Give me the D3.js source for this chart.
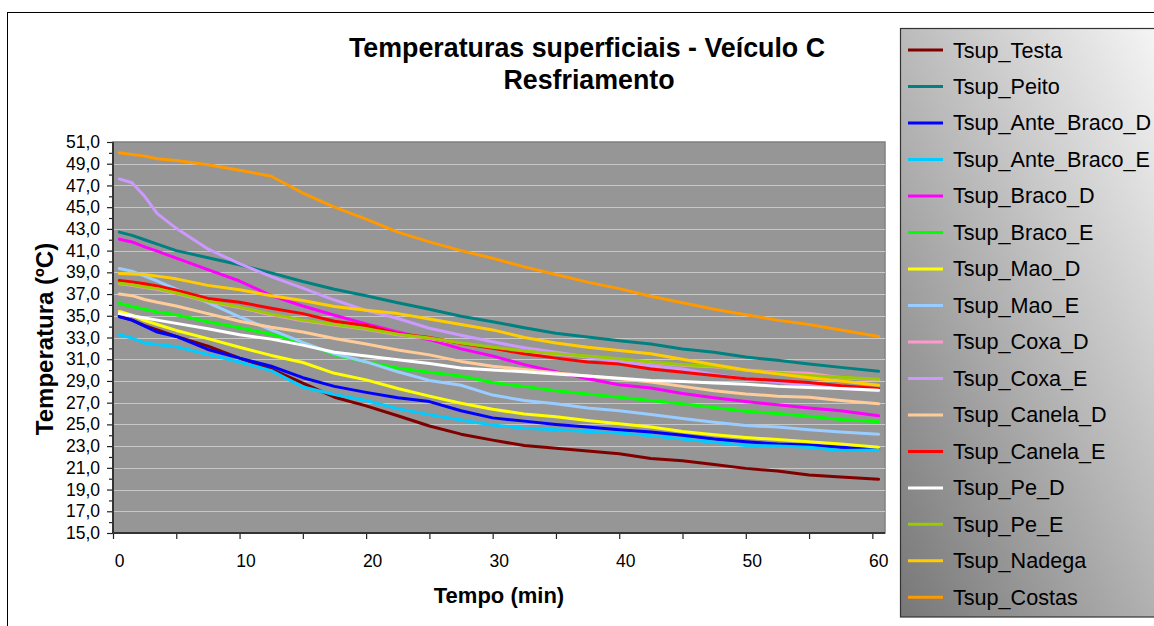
<!DOCTYPE html>
<html><head><meta charset="utf-8">
<script src="https://cdn.jsdelivr.net/npm/d3@7"></script>
<style>
html,body{margin:0;padding:0;background:#fff;overflow:hidden}
svg{display:block}
text{font-family:"Liberation Sans",Arial,sans-serif;fill:#000}
</style>
</head><body>
<svg id="c" width="1154" height="626"></svg>
<script>
// ---- data ----
const times = [0.5,1.5,2.5,3.5,5,7.5,10,12.5,15,17.5,20,22.5,25,27.5,30,32.5,35,37.5,40,42.5,45,47.5,50,52.5,55,57.5,60.5];
const testa      = [34.95,34.6,34.1,33.7,33.1,32.2,31.1,30.1,28.8,27.5,26.7,25.8,24.85,24.1,23.55,23.05,22.8,22.55,22.3,21.85,21.65,21.3,20.95,20.7,20.35,20.15,19.95];
const peito      = [42.7,42.4,42.0,41.6,41.0,40.35,39.7,38.95,38.15,37.45,36.85,36.2,35.6,34.95,34.45,33.9,33.4,33.05,32.7,32.4,31.95,31.65,31.2,30.9,30.55,30.25,29.9];
const anteBracoD = [34.9,34.6,34.05,33.5,33.1,31.9,31.1,30.35,29.3,28.5,27.95,27.45,27.1,26.25,25.6,25.3,25.0,24.75,24.5,24.3,24.0,23.65,23.4,23.2,23.1,22.9,22.7];
const anteBracoE = [33.25,32.95,32.5,32.35,32.15,31.45,30.75,29.95,28.45,27.75,27.2,26.45,25.9,25.4,24.95,24.65,24.5,24.35,24.2,23.95,23.65,23.35,23.05,23.0,22.9,22.6,22.65];
const bracoD     = [42.05,41.8,41.35,40.95,40.3,39.25,38.2,36.85,35.9,35.05,34.25,33.5,32.8,31.95,31.3,30.5,29.85,29.2,28.65,28.35,27.85,27.45,27.1,26.8,26.5,26.25,25.8];
const bracoE     = [36.15,35.85,35.6,35.35,35.1,34.45,33.9,33.3,32.55,31.4,30.75,30.2,29.8,29.45,28.85,28.5,28.1,27.8,27.5,27.2,26.9,26.55,26.2,26.0,25.75,25.45,25.25];
const maoD       = [35.4,35.05,34.55,34.2,33.65,32.9,32.1,31.35,30.7,29.7,29.1,28.3,27.6,26.95,26.4,25.95,25.7,25.35,25.05,24.75,24.35,24.05,23.8,23.6,23.4,23.2,22.9];
const maoE       = [39.35,39.1,38.65,38.2,37.45,36.2,34.9,33.7,32.55,31.5,30.75,29.85,29.05,28.6,27.7,27.2,26.9,26.5,26.25,25.9,25.55,25.2,24.9,24.75,24.5,24.3,24.1];
const coxaD      = [37.95,37.8,37.6,37.45,37.05,36.3,35.75,35.1,34.55,34.15,33.75,33.25,32.9,32.45,32.05,31.7,31.45,31.25,31.0,30.7,30.45,30.3,30.0,29.8,29.7,29.3,29.1];
const coxaE      = [47.6,47.25,46.0,44.4,43.05,41.15,39.8,38.6,37.55,36.45,35.5,34.75,33.85,33.2,32.6,32.05,31.65,31.2,30.75,30.4,30.1,29.6,29.2,28.9,28.6,28.3,28.1];
const canelaD    = [37.0,36.85,36.5,36.25,35.9,35.2,34.5,33.95,33.5,32.9,32.4,31.85,31.4,30.8,30.35,30.05,29.75,29.45,29.2,28.9,28.5,28.1,27.8,27.6,27.5,27.2,26.9];
const canelaE    = [38.25,38.1,37.95,37.75,37.35,36.6,36.25,35.7,35.2,34.5,34.1,33.35,33.0,32.45,32.0,31.5,31.1,30.75,30.55,30.1,29.8,29.5,29.2,29.05,28.85,28.55,28.3];
const peD        = [35.2,35.0,34.8,34.6,34.3,33.8,33.25,32.85,32.3,31.65,31.3,30.95,30.6,30.2,30.0,29.85,29.65,29.45,29.25,29.05,28.95,28.8,28.7,28.5,28.4,28.3,28.15];
const peE        = [38.0,37.85,37.65,37.5,37.1,36.35,35.8,35.15,34.6,34.2,33.8,33.3,32.95,32.5,32.1,31.75,31.5,31.3,31.05,30.75,30.5,30.35,30.0,29.7,29.5,29.35,29.15];
const nadega     = [38.9,38.85,38.8,38.65,38.4,37.8,37.4,36.85,36.4,35.85,35.5,35.2,34.7,34.2,33.7,33.0,32.5,32.1,31.8,31.5,31.0,30.5,30.0,29.65,29.3,29.0,28.6];
const costas     = [50.0,49.85,49.7,49.45,49.3,48.9,48.4,47.85,46.3,45.0,43.9,42.7,41.8,41.0,40.3,39.5,38.8,38.1,37.5,36.8,36.2,35.6,35.1,34.6,34.2,33.7,33.1];

const seriesNames = ["Tsup_Testa","Tsup_Peito","Tsup_Ante_Braco_D","Tsup_Ante_Braco_E","Tsup_Braco_D","Tsup_Braco_E","Tsup_Mao_D","Tsup_Mao_E","Tsup_Coxa_D","Tsup_Coxa_E","Tsup_Canela_D","Tsup_Canela_E","Tsup_Pe_D","Tsup_Pe_E","Tsup_Nadega","Tsup_Costas"];
const seriesColors = ["#800000","#008080","#0000FF","#00CCFF","#FF00FF","#00FF00","#FFFF00","#99CCFF","#FF99CC","#CC99FF","#FFCC99","#FF0000","#FFFFFF","#99CC00","#FFCC00","#FF9900"];
const seriesValues = [testa,peito,anteBracoD,anteBracoE,bracoD,bracoE,maoD,maoE,coxaD,coxaE,canelaD,canelaE,peD,peE,nadega,costas];

const yMajorTicks = d3.range(15, 52, 2);
const yMinorTicks = d3.range(16, 51, 2);
const xTicks = d3.range(0, 61, 5);
const xLabelTicks = d3.range(0, 61, 10);

const titleLines = ["Temperaturas superficiais - Veículo C","Resfriamento"];
const xTitle = "Tempo (min)";
const yTitle = "Temperatura (ºC)";

// ---- drawing ----
const svg = d3.select("#c");
const P = {left:113, top:142, right:885, bottom:533};
const x = d3.scaleLinear().domain([0,61]).range([P.left,P.right]);
const y = d3.scaleLinear().domain([15,51]).range([P.bottom,P.top]);

const defs = svg.append("defs");
const grad = defs.append("linearGradient").attr("id","lg")
  .attr("x1","0").attr("y1","1").attr("x2","1").attr("y2","0");
grad.append("stop").attr("offset","0").attr("stop-color","#777777");
grad.append("stop").attr("offset","1").attr("stop-color","#ffffff");

// chart area border
svg.append("rect").attr("x",7.5).attr("y",12.5).attr("width",1300).attr("height",800)
  .attr("fill","#fff").attr("stroke","#000").attr("stroke-width",1);

// plot area
svg.append("rect").attr("x",P.left).attr("y",P.top)
  .attr("width",P.right-P.left).attr("height",P.bottom-P.top)
  .attr("fill","#969696").attr("stroke","#808080").attr("stroke-width",1.5);

// gridlines
svg.append("g").selectAll("line").data(yMajorTicks.filter(v=>v>15 && v<51)).join("line")
  .attr("x1",P.left).attr("x2",P.right)
  .attr("y1",d=>Math.round(y(d))+0.5).attr("y2",d=>Math.round(y(d))+0.5)
  .attr("stroke","#c8c8c8").attr("stroke-width",1);

// y axis
const yAxis = svg.append("g").attr("transform",`translate(${P.left},0)`)
  .call(d3.axisLeft(y).tickValues(yMajorTicks).tickSize(6).tickPadding(7)
    .tickFormat(d=>d.toFixed(1).replace(".",",")));
yAxis.select(".domain").remove();
yAxis.selectAll(".tick line").attr("stroke","#222").attr("stroke-width",1.2);
yAxis.selectAll("text").style("font-size","17.5px").attr("fill","#000");
const yMinor = svg.append("g").attr("transform",`translate(${P.left},0)`)
  .call(d3.axisLeft(y).tickValues(yMinorTicks).tickSize(4).tickFormat(""));
yMinor.select(".domain").remove();
yMinor.selectAll(".tick line").attr("stroke","#222").attr("stroke-width",1.2);

// x axis
const xAxis = svg.append("g").attr("transform",`translate(0,${P.bottom})`)
  .call(d3.axisBottom(x).tickValues(xTicks).tickSize(6).tickPadding(16)
    .tickFormat(d=>xLabelTicks.includes(d)?String(d):""));
xAxis.select(".domain").remove();
xAxis.selectAll(".tick line").attr("stroke","#222").attr("stroke-width",1.2);
xAxis.selectAll("text").style("font-size","17.5px").attr("fill","#000").attr("dx",6);

// axis lines
svg.append("line").attr("x1",P.left).attr("x2",P.left).attr("y1",P.top).attr("y2",P.bottom+1)
  .attr("stroke","#333").attr("stroke-width",2);
svg.append("line").attr("x1",P.left-1).attr("x2",P.right).attr("y1",P.bottom).attr("y2",P.bottom)
  .attr("stroke","#333").attr("stroke-width",2);

// series lines
const line = d3.line().x((d,i)=>x(times[i])).y(d=>y(d));
svg.append("g").selectAll("path").data(seriesValues).join("path")
  .attr("d",line).attr("fill","none")
  .attr("stroke",(d,i)=>seriesColors[i]).attr("stroke-width",3)
  .attr("stroke-linejoin","round").attr("stroke-linecap","round");

// titles
svg.append("text").attr("x",587).attr("y",56.5).attr("text-anchor","middle")
  .style("font-size","26.8px").style("font-weight","bold").text(titleLines[0]);
svg.append("text").attr("x",589).attr("y",88.5).attr("text-anchor","middle")
  .style("font-size","26.8px").style("font-weight","bold").text(titleLines[1]);
svg.append("text").attr("x",(P.left+P.right)/2).attr("y",603).attr("text-anchor","middle")
  .style("font-size","22px").style("font-weight","bold").text(xTitle);
svg.append("text").attr("transform","translate(53,339) rotate(-90)").attr("text-anchor","middle")
  .style("font-size","24px").style("font-weight","bold").text(yTitle);

// legend
svg.append("rect").attr("x",900.5).attr("y",28.5).attr("width",300).attr("height",588.5)
  .attr("fill","url(#lg)").attr("stroke","#333").attr("stroke-width",1.2);
const lg = svg.append("g").selectAll("g").data(seriesNames).join("g")
  .attr("transform",(d,i)=>`translate(0,${50 + i*36.49})`);
lg.append("line").attr("x1",908).attr("x2",943).attr("y1",0).attr("y2",0)
  .attr("stroke",(d,i)=>seriesColors[i]).attr("stroke-width",3);
lg.append("text").attr("x",953).attr("y",7.5).style("font-size","21.6px").text(d=>d);
</script>
</body></html>
